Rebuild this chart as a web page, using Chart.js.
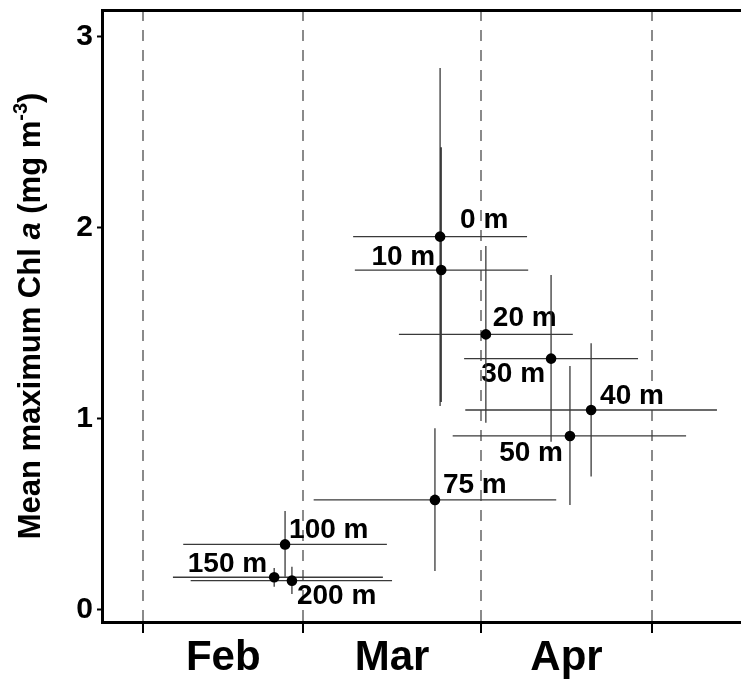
<!DOCTYPE html>
<html>
<head>
<meta charset="utf-8">
<script src="https://cdn.jsdelivr.net/npm/chart.js@4/dist/chart.umd.min.js"></script>
<style>
html,body{margin:0;padding:0;background:#fff;}
#wrap{width:741px;height:684px;position:relative;}
</style>
</head>
<body>
<div id="wrap"><canvas id="c"></canvas></div>
<script>
// ---- data (x values are day of year: Feb 1 = 32, Mar 1 = 60, Apr 1 = 91, May 1 = 121) ----
const depthLabels = ['0 m', '10 m', '20 m', '30 m', '40 m', '50 m', '75 m', '100 m', '150 m', '200 m'];
const meanDay  = [83.9, 84.1, 91.9, 103.3, 110.3, 106.6, 83.0, 56.8, 54.9, 58.0];
const dayLow   = [68.7, 69.0, 76.7, 88.1, 88.3, 86.1, 61.8, 39.0, 37.2, 40.3];
const dayHigh  = [99.1, 99.3, 107.1, 118.5, 132.3, 126.9, 104.2, 74.6, 73.9, 75.5];
const meanChl  = [1.952, 1.777, 1.44, 1.313, 1.044, 0.908, 0.573, 0.34, 0.168, 0.15];
const chlLow   = [1.065, 1.086, 0.977, 0.878, 0.695, 0.546, 0.20, 0.171, 0.118, 0.08];
const chlHigh  = [2.835, 2.42, 1.903, 1.751, 1.393, 1.274, 0.948, 0.515, 0.216, 0.223];
const monthBoundaries = [32, 60, 91, 121];
const monthNames = ['Feb', 'Mar', 'Apr'];
const yTickValues = [0, 1, 2, 3];

// ---- presentation ----
const FONT = '"Liberation Sans", Arial, Helvetica, sans-serif';
const X_MIN = 24.8, X_MAX = 136.5, Y_MIN = -0.0665, Y_MAX = 3.139;
// label placement relative to each point: [dx, dy (baseline), align]
const labelPlacement = [
  [20, -9, 'left'], [-6, -5, 'right'], [7, -8, 'left'], [-6, 23, 'right'], [9, -6, 'left'],
  [-7, 25, 'right'], [8, -7, 'left'], [4, -6, 'left'], [-7, -5, 'right'], [5, 23, 'left']
];

const monthMids = monthNames.map((_, i) => (monthBoundaries[i] + monthBoundaries[i + 1]) / 2);
const xTickValues = monthBoundaries.concat(monthMids).sort((a, b) => a - b);
const isBoundary = v => monthBoundaries.includes(v);

const hBars = depthLabels.flatMap((_, i) => [
  {x: dayLow[i], y: meanChl[i]}, {x: dayHigh[i], y: meanChl[i]}, {x: dayHigh[i], y: null}
]);
const vBars = depthLabels.flatMap((_, i) => [
  {x: meanDay[i], y: chlLow[i]}, {x: meanDay[i], y: chlHigh[i]}, {x: meanDay[i], y: null}
]);
const points = depthLabels.map((_, i) => ({x: meanDay[i], y: meanChl[i]}));

const depthLabelPlugin = {
  id: 'depthLabels',
  beforeDatasetsDraw(chart) {
    const {ctx, scales: {x, y}} = chart;
    ctx.save();
    ctx.font = `bold 28px ${FONT}`;
    ctx.fillStyle = '#000';
    ctx.textBaseline = 'alphabetic';
    depthLabels.forEach((lab, i) => {
      const [dx, dy, align] = labelPlacement[i];
      ctx.textAlign = align;
      ctx.fillText(lab, x.getPixelForValue(meanDay[i]) + dx, y.getPixelForValue(meanChl[i]) + dy);
    });
    ctx.restore();
  }
};

const yTitlePlugin = {
  id: 'yTitle',
  afterDraw(chart) {
    const {ctx, chartArea} = chart;
    const segs = [
      {t: 'Mean maximum Chl ', f: `bold 31px ${FONT}`, dy: 0},
      {t: 'a', f: `italic bold 31px ${FONT}`, dy: 0},
      {t: ' (mg m', f: `bold 31px ${FONT}`, dy: 0},
      {t: '-3', f: `bold 20px ${FONT}`, dy: -13},
      {t: ')', f: `bold 31px ${FONT}`, dy: 0}
    ];
    ctx.save();
    let total = 0;
    segs.forEach(s => { ctx.font = s.f; s.w = ctx.measureText(s.t).width; total += s.w; });
    ctx.translate(40, (chartArea.top + chartArea.bottom) / 2);
    ctx.rotate(-Math.PI / 2);
    ctx.fillStyle = '#000';
    ctx.textBaseline = 'alphabetic';
    ctx.textAlign = 'left';
    let px = -total / 2;
    segs.forEach(s => { ctx.font = s.f; ctx.fillText(s.t, px, s.dy); px += s.w; });
    ctx.restore();
  }
};

new Chart(document.getElementById('c'), {
  type: 'scatter',
  data: {
    datasets: [
      {label: 'points', data: points, pointRadius: 5.3, pointBackgroundColor: '#000', pointBorderWidth: 0, showLine: false},
      {type: 'line', label: 'x range', data: hBars, borderColor: '#3a3a3a', borderWidth: 1.3, pointRadius: 0, spanGaps: false, fill: false, tension: 0},
      {type: 'line', label: 'chl range', data: vBars, borderColor: '#3a3a3a', borderWidth: 1.3, pointRadius: 0, spanGaps: false, fill: false, tension: 0}
    ]
  },
  options: {
    responsive: true,
    maintainAspectRatio: false,
    animation: false,
    events: [],
    layout: {autoPadding: false, padding: {top: 10, right: 0, bottom: 0, left: 0}},
    plugins: {legend: {display: false}, tooltip: {enabled: false}},
    scales: {
      x: {
        type: 'linear', position: 'bottom', min: X_MIN, max: X_MAX,
        afterBuildTicks: s => { s.ticks = xTickValues.map(v => ({value: v})); },
        afterFit: s => { s.height = 62; s.paddingLeft = 0; s.paddingRight = 0; },
        ticks: {
          autoSkip: false, maxRotation: 0, minRotation: 0, padding: 0, color: '#000',
          font: {family: FONT, size: 42, weight: 'bold'},
          callback: v => { const k = monthMids.indexOf(v); return k >= 0 ? monthNames[k] : ''; }
        },
        grid: {
          color: c => (c.tick && isBoundary(c.tick.value)) ? '#8a8a8a' : 'rgba(0,0,0,0)',
          lineWidth: 2,
          tickColor: c => (c.tick && isBoundary(c.tick.value)) ? '#000' : 'rgba(0,0,0,0)',
          tickLength: 11, tickWidth: 2, tickBorderDash: []
        },
        border: {color: '#000', width: 3, dash: [11, 9]}
      },
      xTop: {
        type: 'linear', position: 'top', min: X_MIN, max: X_MAX,
        ticks: {display: false},
        grid: {display: false, drawTicks: false},
        border: {color: '#000', width: 3},
        afterFit: s => { s.height = 0; s.paddingLeft = 0; s.paddingRight = 0; }
      },
      y: {
        type: 'linear', position: 'left', min: Y_MIN, max: Y_MAX,
        afterBuildTicks: s => { s.ticks = yTickValues.map(v => ({value: v})); },
        afterFit: s => { s.width = 102; s.paddingTop = 0; s.paddingBottom = 0; },
        ticks: {padding: 4, color: '#000', font: {family: FONT, size: 30, weight: 'bold'}, callback: v => String(v)},
        grid: {drawOnChartArea: false, tickLength: 5, tickWidth: 2, tickColor: '#000'},
        border: {color: '#000', width: 3}
      }
    }
  },
  plugins: [depthLabelPlugin, yTitlePlugin]
});
</script>
</body>
</html>
